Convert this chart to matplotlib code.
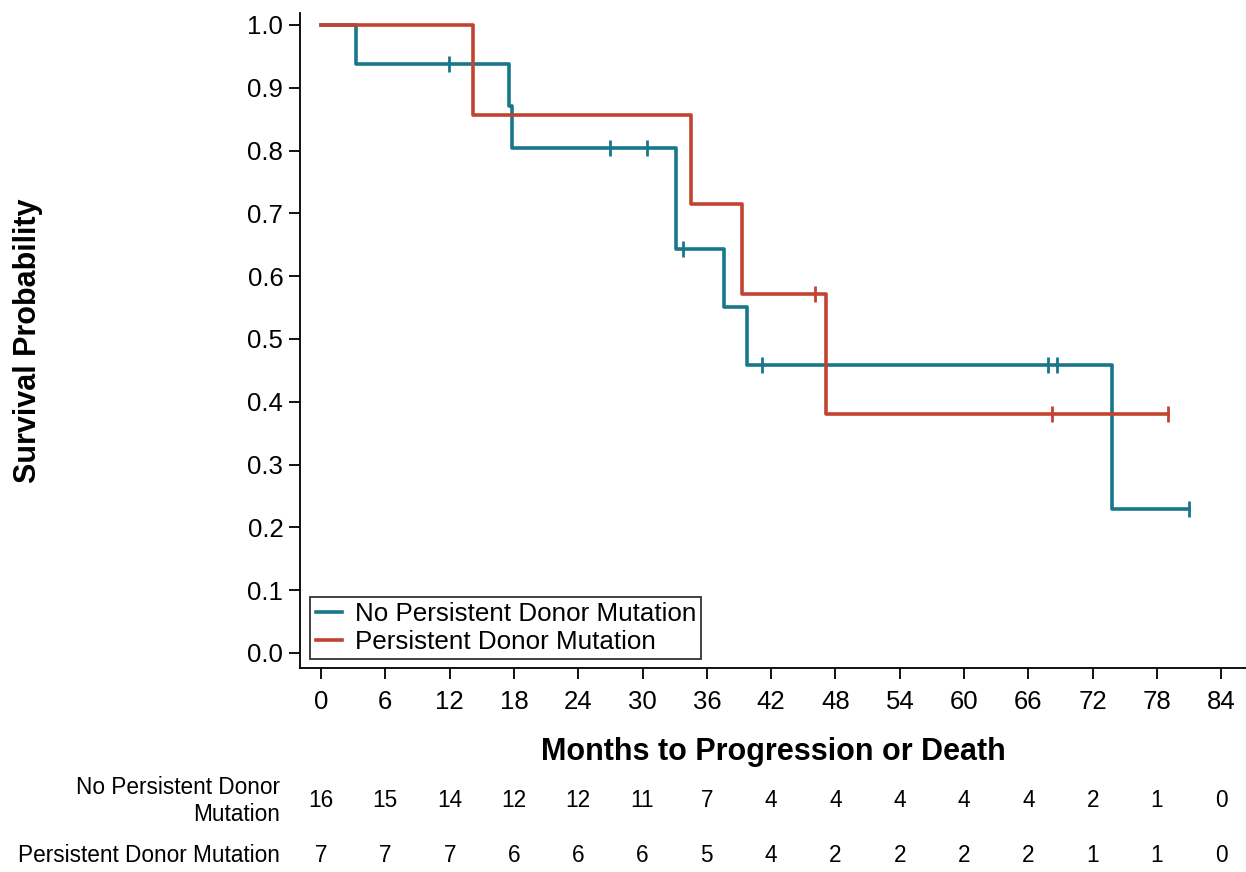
import numpy as np
import matplotlib
matplotlib.use("Agg")
import matplotlib.pyplot as plt
from matplotlib.transforms import blended_transform_factory

plt.rcParams['font.family'] = ['Liberation Sans', 'DejaVu Sans']

# --- Data ---
group_names = ["No Persistent Donor Mutation", "Persistent Donor Mutation"]
colors = ["#18778a", "#c2432f"]

# Step curves (time, survival)
no_times = [0, 3.3, 17.5, 17.8, 33.1, 37.6, 39.7, 73.8, 81.0]
no_surv = [1.0, 0.9375, 0.8705, 0.8036, 0.6429, 0.5510, 0.4592, 0.2296, 0.2296]
no_cens_t = [11.95, 27.0, 30.4, 33.8, 41.1, 67.8, 68.7, 81.0]
no_cens_s = [0.9375, 0.8036, 0.8036, 0.6429, 0.4592, 0.4592, 0.4592, 0.2296]

p_times = [0, 14.2, 34.5, 39.3, 47.1, 79.0]
p_surv = [1.0, 0.8571, 0.7143, 0.5714, 0.3810, 0.3810]
p_cens_t = [46.1, 68.2, 79.0]
p_cens_s = [0.5714, 0.3810, 0.3810]

risk_times = [0, 6, 12, 18, 24, 30, 36, 42, 48, 54, 60, 66, 72, 78, 84]
risk_no = [16, 15, 14, 12, 12, 11, 7, 4, 4, 4, 4, 4, 2, 1, 0]
risk_p = [7, 7, 7, 6, 6, 6, 5, 4, 2, 2, 2, 2, 1, 1, 0]

y_ticks = [0.0, 0.1, 0.2, 0.3, 0.4, 0.5, 0.6, 0.7, 0.8, 0.9, 1.0]

fig = plt.figure(figsize=(12.46, 8.72), dpi=100)
ax = fig.add_axes([300/1246, 204/872, 946/1246, 655/872])

lw = 2.6
ax.step(no_times, no_surv, where='post', color=colors[0], lw=lw, label=group_names[0], zorder=3)
ax.step(p_times, p_surv, where='post', color=colors[1], lw=lw, label=group_names[1], zorder=3)
ax.plot(no_cens_t, no_cens_s, ls='none', marker='|', ms=11, mew=2, color=colors[0], zorder=4)
ax.plot(p_cens_t, p_cens_s, ls='none', marker='|', ms=11, mew=2, color=colors[1], zorder=4)

ax.set_xlim(-1.96, 86.3)
ax.set_ylim(-0.024, 1.019)
ax.set_xticks(risk_times)
ax.set_yticks(y_ticks)
ax.set_yticklabels([f"{v:.1f}" for v in y_ticks])
ax.tick_params(axis='both', labelsize=18.5, length=8, width=1.3, direction='out', colors='black')
ax.tick_params(axis='x', pad=8)
ax.tick_params(axis='y', pad=4)

for s in ['top', 'right']:
    ax.spines[s].set_visible(False)
for s in ['left', 'bottom']:
    ax.spines[s].set_linewidth(1.3)

ax.set_xlabel("Months to Progression or Death", fontsize=22, fontweight='bold', va='center')
ax.xaxis.set_label_coords(0.5, (668 - 752) / 655)
ax.set_ylabel("Survival Probability", fontsize=22, fontweight='bold', va='center')
ax.yaxis.set_label_coords((28 - 300) / 946, 0.5)

leg = ax.legend(loc='lower left', bbox_to_anchor=(0.011, 0.014), fontsize=18.7,
                frameon=True, fancybox=False, edgecolor='black', handlelength=1.0,
                handletextpad=0.5, borderpad=0.2, labelspacing=0.15, borderaxespad=0)
leg.get_frame().set_linewidth(1.3)

trans = blended_transform_factory(ax.transData, fig.transFigure)
y1 = 1 - 800/872
y2 = 1 - 855/872
for t, a, b in zip(risk_times, risk_no, risk_p):
    ax.text(t, y1, str(a), transform=trans, ha='center', va='center', fontsize=16.3, clip_on=False)
    ax.text(t, y2, str(b), transform=trans, ha='center', va='center', fontsize=16.3, clip_on=False)

fig.text(280/1246, 1 - 801/872, "No Persistent Donor\nMutation", ha='right', va='center',
         fontsize=16.3, linespacing=1.2)
fig.text(280/1246, y2, "Persistent Donor Mutation", ha='right', va='center', fontsize=16.3)

fig.savefig("out.png", dpi=100)
